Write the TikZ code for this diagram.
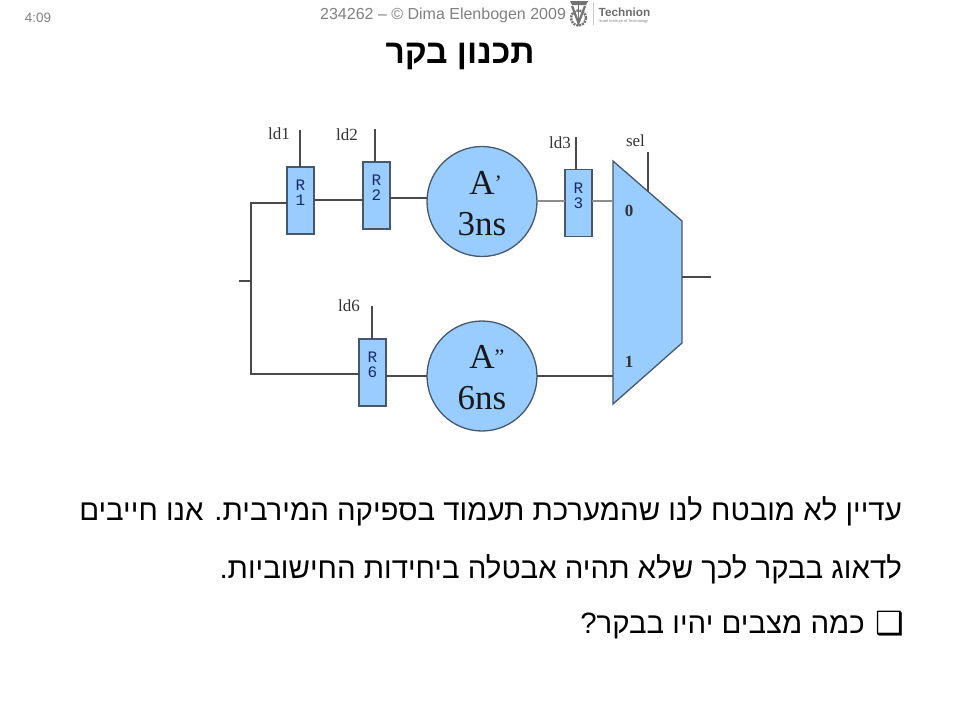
\documentclass[tikz,border=0pt]{standalone}
\usepackage{fontspec}
\setmainfont{Liberation Sans}
\newfontfamily\serifdg{Liberation Serif}
\newfontfamily\monodg{Liberation Mono}
\newfontfamily\symdg{DejaVu Sans}
\newfontfamily\hebdg[Script=Hebrew]{Liberation Sans}
\TeXXeTstate=1
\definecolor{fillblue}{HTML}{99CCFF}
\definecolor{wire}{HTML}{4A4A4A}
\definecolor{edge}{HTML}{46586A}
\definecolor{lightwire}{HTML}{8C8C8C}
\definecolor{hdr}{HTML}{808080}
\definecolor{reglabel}{HTML}{1A2A6A}
\tikzset{
 reg/.style={draw=edge,line width=1.4pt,fill=fillblue,minimum width=27pt,minimum height=67pt,inner sep=0pt,outer sep=0pt},
 alu/.style={circle,draw=edge,line width=1.3pt,fill=fillblue,minimum size=110pt,inner sep=0pt,outer sep=0pt},
 wirel/.style={draw=wire,line width=1.5pt},
 reglab/.style={font=\monodg\fontsize{16}{15}\selectfont,text=reglabel,align=center,inner sep=0pt},
 alulab/.style={font=\serifdg\fontsize{35}{37}\selectfont,text=black!90,inner sep=0pt},
 sig/.style={font=\serifdg\fontsize{17}{19}\selectfont,text=black!80,inner sep=0pt},
 heb/.style={font=\hebdg\fontsize{29.4}{33}\selectfont,anchor=east,inner sep=0pt},
}
\newcommand{\primea}{\rlap{\fontsize{22}{22}\selectfont\raisebox{4pt}{’}}}
\newcommand{\primeb}{\rlap{\fontsize{22}{22}\selectfont\raisebox{4pt}{”}}}
\begin{document}
\begin{tikzpicture}[x=1pt,y=-1pt]
\useasboundingbox (0,0) rectangle (960,720);
% header
\node[font=\fontsize{13.5}{15}\selectfont,text=hdr,inner sep=0pt] (clock) at (38,18) {4:09};
\node[font=\fontsize{16}{18}\selectfont,text=hdr,inner sep=0pt,anchor=west] (copy) at (320,15) {234262 – © Dima Elenbogen 2009};
\node[font=\bfseries\fontsize{11.8}{13}\selectfont,text=hdr!85!black,inner sep=0pt,anchor=west] (tech) at (598.5,12.5) {Technion};
\node[font=\fontsize{3.9}{4.5}\selectfont,text=hdr,inner sep=0pt,anchor=west] (inst) at (598.5,21.5) {Israel Institute of Technology};
\draw[hdr!40,line width=.5pt] (593,2) -- (593,25);
% logo
\fill[hdr!90!black] (570,1) -- (588,1) -- (586,5) -- (572,5) -- cycle;
\draw[hdr!90!black,line width=2.5pt,dash pattern=on 2pt off 1pt] (578.5,18) circle (7.5);
\draw[hdr!90!black,line width=2.2pt] (572,6) -- (578.5,23) -- (585,6);
\draw[hdr!90!black,line width=1.6pt] (578.5,4) -- (578.5,21);
\node[font=\hebdg\bfseries\fontsize{33.6}{37}\selectfont,inner sep=0pt] (title) at (460,56) {\beginR תכנון בקר\endR};
% registers
\node[reg] (r1) at (300.5,200.5) {};
\node[reg] (r2) at (376.5,195.5) {};
\node[reg] (r3) at (578.5,203) {};
\node[reg] (r6) at (372.5,372.5) {};
\node[reglab] (r1t) at (300.5,192.5) {R\\1};
\node[reglab] (r2t) at (376.5,187.5) {R\\2};
\node[reglab] (r3t) at (578.5,195.5) {R\\3};
\node[reglab] (r6t) at (372.5,364.5) {R\\6};
% ALUs
\node[alu] (a1) at (482,201.5) {};
\node[alu] (a2) at (482,376) {};
\node[alulab] (a1a) at (482,183) {A\primea};
\node[alulab] (a1n) at (482,224) {3ns};
\node[alulab] (a2a) at (482,357) {A\primeb};
\node[alulab] (a2n) at (482,398) {6ns};
% mux
\coordinate (m1) at (613,161);
\coordinate (m2) at (682,221);
\coordinate (m3) at (682,343);
\coordinate (m4) at (613,404);
\filldraw[fill=fillblue,draw=edge,line width=1.3pt] (m1) -- (m2) -- (m3) -- (m4) -- cycle;
\node[sig,font=\serifdg\bfseries\fontsize{17}{19}\selectfont] (m0t) at (629,211) {0};
\node[sig,font=\serifdg\bfseries\fontsize{17}{19}\selectfont] (m1t) at (629,362) {1};
% signal labels
\node[sig] (ld1) at (279,134) {ld1};
\node[sig] (ld2) at (347,135) {ld2};
\node[sig] (ld3) at (560,143) {ld3};
\node[sig] (ld6) at (349,306) {ld6};
\node[sig] (sel) at (635.5,141) {sel};
% control lines
\coordinate (c1) at (300,130);
\coordinate (c2) at (375,129);
\coordinate (c3) at (576,137);
\coordinate (c6) at (372,306);
\coordinate (cs) at (648,152);
\coordinate (cse) at (648,191);
\draw[wirel] (c1) -- (c1 |- r1.north);
\draw[wirel] (c2) -- (c2 |- r2.north);
\draw[wirel] (c3) -- (c3 |- r3.north);
\draw[wirel] (c6) -- (c6 |- r6.north);
\draw[wirel] (cs) -- (cse);
% data wires
\coordinate (in) at (239,281);
\coordinate (bus) at (251,281);
\coordinate (out) at (711,277);
\draw[wirel] (in) -- (bus);
\draw[wirel] (r1.west |- 0,203) -| (bus) |- (r6.west |- 0,374);
\draw[wirel] (r1.east |- 0,200) -- (r2.west |- 0,200);
\draw[wirel] (r2.east |- 0,198) -- (a1.west |- 0,198);
\draw[line width=1.5pt,draw=lightwire] (a1.east |- 0,201) -- (r3.west |- 0,201);
\draw[line width=1.5pt,draw=lightwire] (r3.east |- 0,201) -- (m1 |- 0,201);
\draw[wirel] (r6.east |- 0,376) -- (a2.west);
\draw[wirel] (a2.east) -- (m1 |- a2.east);
\draw[wirel] (m2 |- out) -- (out);
% body text
\node[heb] (l1) at (902,511) {\beginR עדיין לא מובטח לנו שהמערכת תעמוד בספיקה המירבית. אנו חייבים\endR};
\node[heb] (l2) at (902,569) {\beginR לדאוג בבקר לכך שלא תהיה אבטלה ביחידות החישוביות.\endR};
\node[font=\symdg\fontsize{32}{34}\selectfont,inner sep=0pt] (bul) at (890,624) {❑};
\node[heb] (l3) at (865,626) {\beginR כמה מצבים יהיו בבקר?\endR};
\end{tikzpicture}
\end{document}
